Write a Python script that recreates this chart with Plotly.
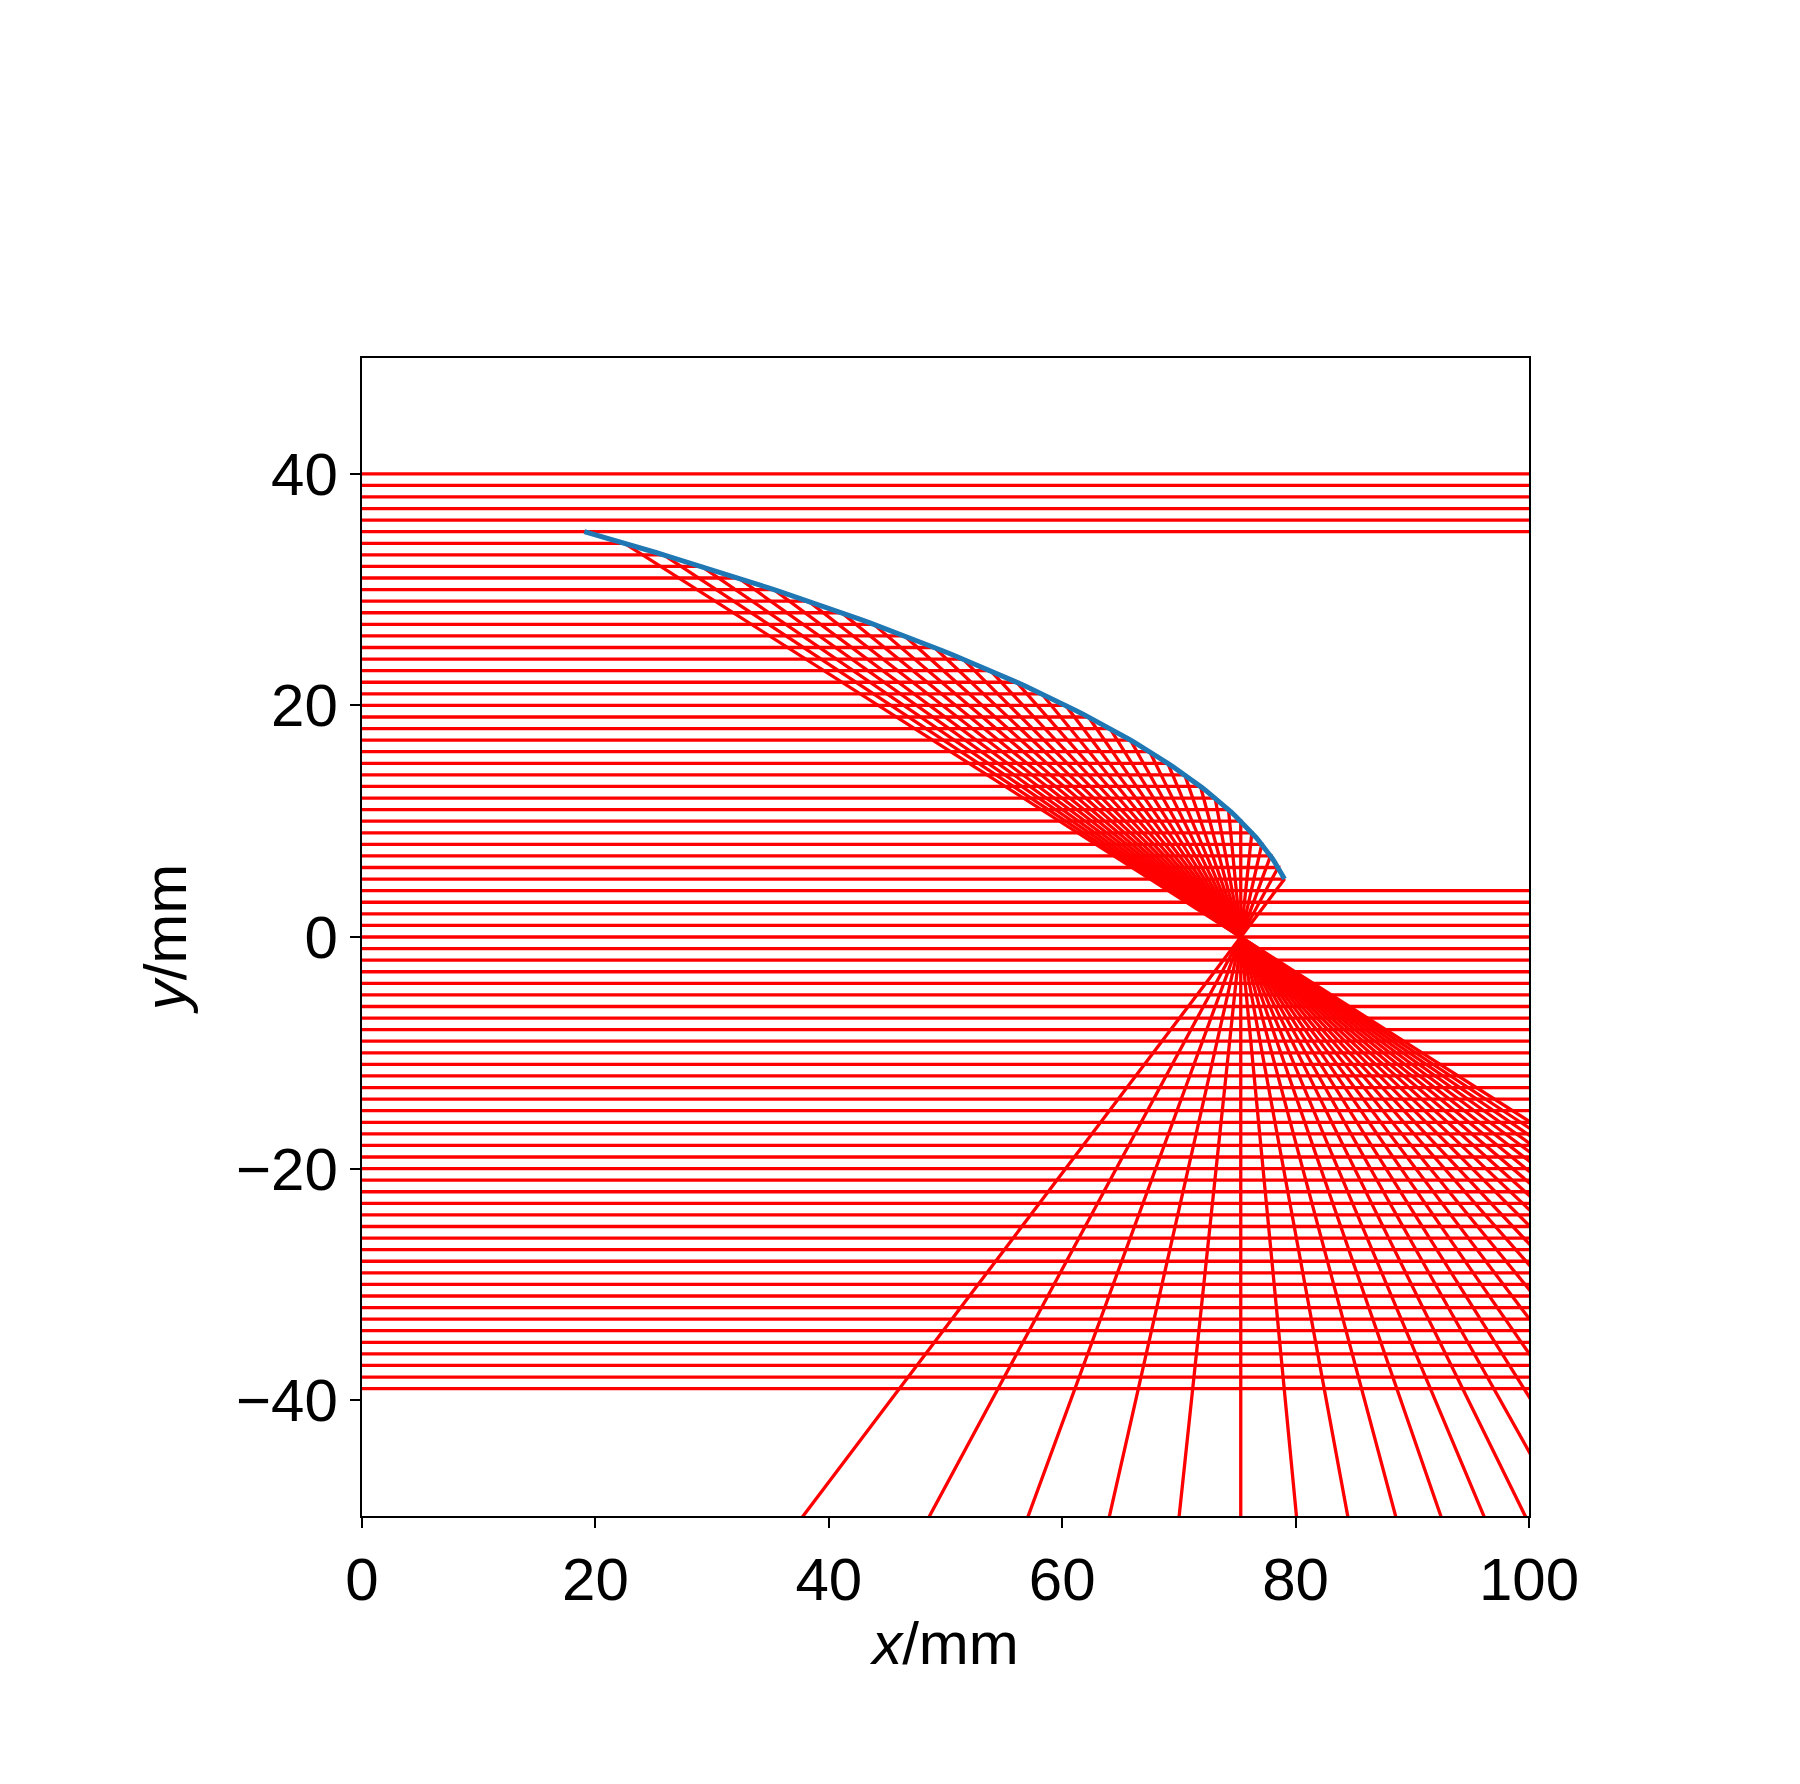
import numpy as np
import plotly.graph_objects as go

# Parabolic mirror x = vertex_x - y^2/(4 f), focus at (vertex_x - f, 0)
vertex_x = 80.3
focal = 5.0
mirror_ymin, mirror_ymax = 5.0, 35.0
ray_heights = list(range(-39, 41))
x_ticks = [0, 20, 40, 60, 80, 100]
y_ticks = [-40, -20, 0, 20, 40]

fx, fy = vertex_x - focal, 0.0
fig = go.Figure()
xs, ys = [], []
for h in ray_heights:
    if mirror_ymin <= h < mirror_ymax:
        mx = vertex_x - h * h / (4 * focal)
        dx, dy = fx - mx, fy - h
        t = 200 / np.hypot(dx, dy)
        xs += [0, mx, mx + dx * t, None]
        ys += [h, h, h + dy * t, None]
    else:
        xs += [0, 100, None]
        ys += [h, h, None]
fig.add_trace(go.Scatter(x=xs, y=ys, mode="lines", line=dict(color="red", width=3.3), hoverinfo="skip"))
my = np.linspace(mirror_ymin, mirror_ymax, 100)
fig.add_trace(go.Scatter(x=vertex_x - my**2 / (4 * focal), y=my, mode="lines",
                         line=dict(color="#1f77b4", width=5)))

ax = dict(showgrid=False, zeroline=False, showline=True, mirror=True, linecolor="black", linewidth=2.4,
          ticks="outside", ticklen=10, tickwidth=2.4, tickcolor="black",
          tickfont=dict(size=60, color="black"), title_font=dict(size=60, color="black"))
fig.update_xaxes(range=[0, 100], tickvals=x_ticks, title_text="<i>x</i>/mm", title_standoff=10, **ax)
fig.update_yaxes(range=[-50, 50], tickvals=y_ticks, title_text="<i>y</i>/mm", title_standoff=30,
                 tickformat="d", **ax)
fig.update_layout(width=1800, height=1784, showlegend=False, plot_bgcolor="white", paper_bgcolor="white",
                  font=dict(family="Liberation Sans, Arial", color="black"),
                  margin=dict(l=354, r=279, t=350, b=276))
fig.write_html("out.html")
